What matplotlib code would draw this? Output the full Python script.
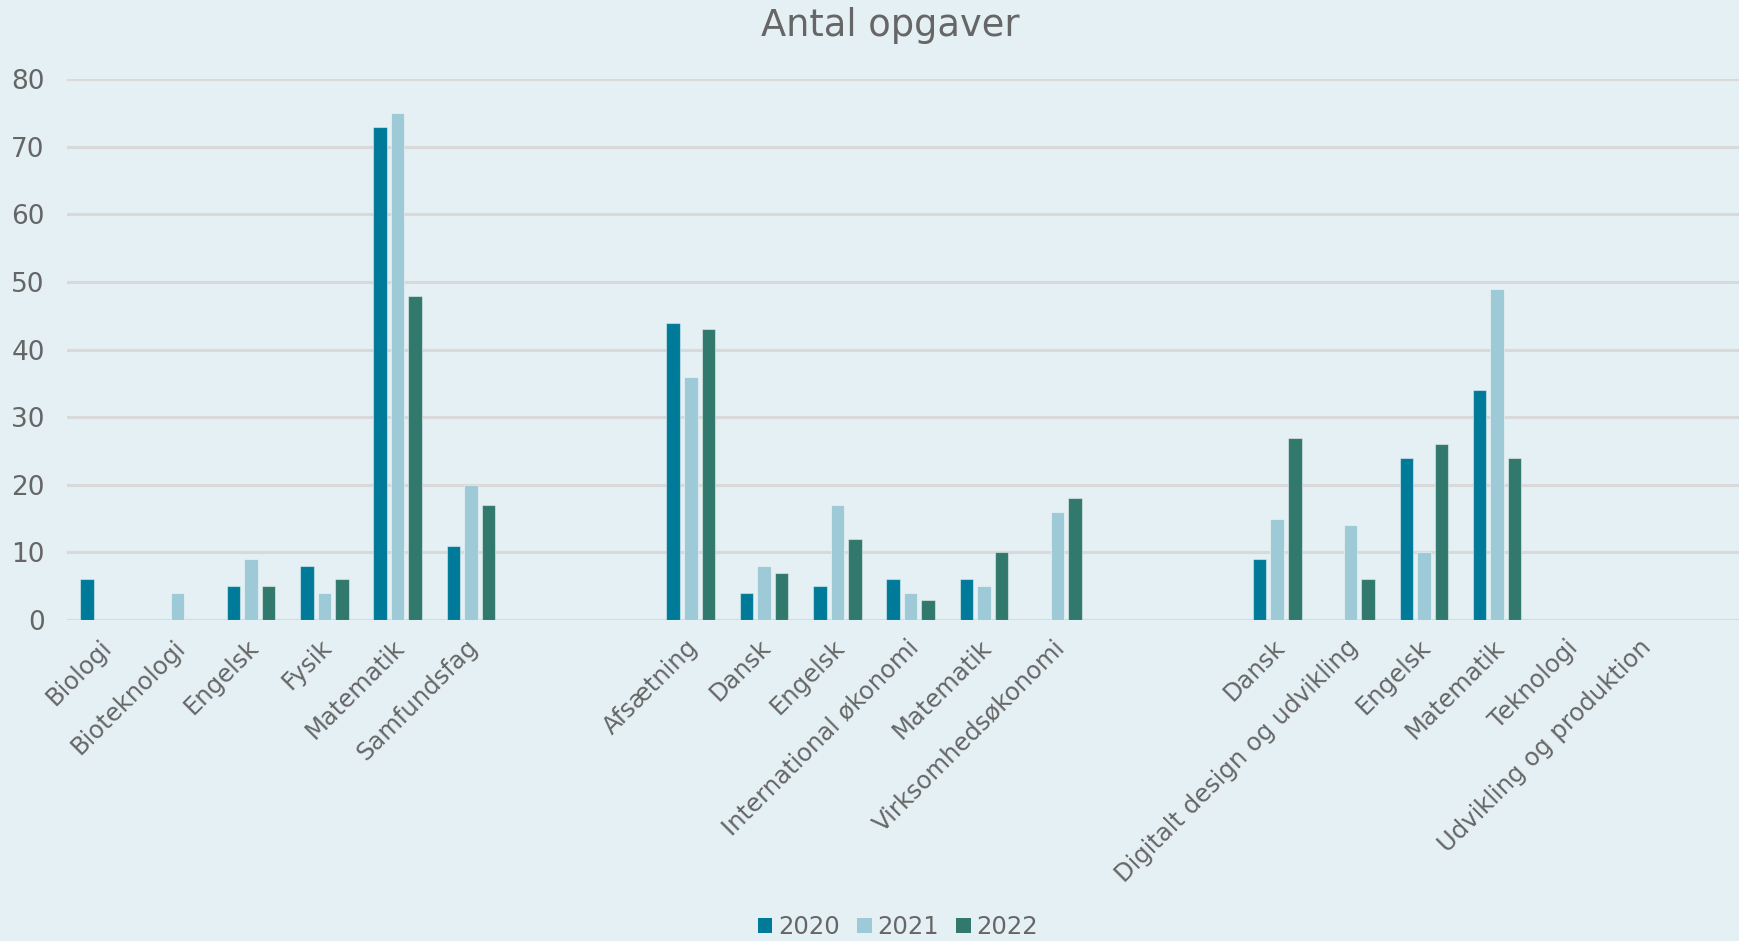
import matplotlib
matplotlib.use("Agg")
import matplotlib.pyplot as plt
import matplotlib.transforms as mtransforms
import numpy as np

categories = ["Biologi", "Bioteknologi", "Engelsk", "Fysik", "Matematik", "Samfundsfag",
              "", "",
              "Afsætning", "Dansk", "Engelsk", "International økonomi", "Matematik", "Virksomhedsøkonomi",
              "", "",
              "Dansk", "Digitalt design og udvikling", "Engelsk", "Matematik", "Teknologi", "Udvikling og produktion"]
nan = np.nan
v2020 = [6, nan, 5, 8, 73, 11, nan, nan, 44, 4, 5, 6, 6, nan, nan, nan, 9, nan, 24, 34, nan, nan]
v2021 = [nan, 4, 9, 4, 75, 20, nan, nan, 36, 8, 17, 4, 5, 16, nan, nan, 15, 14, 10, 49, nan, nan]
v2022 = [nan, nan, 5, 6, 48, 17, nan, nan, 43, 7, 12, 3, 10, 18, nan, nan, 27, 6, 26, 24, nan, nan]
series = ["2020", "2021", "2022"]
colors = ["#007A99", "#9DCAD6", "#31786D"]
yticks = [0, 10, 20, 30, 40, 50, 60, 70, 80]

bg = "#E5F0F4"
txt = "#666666"

fig = plt.figure(figsize=(17.39, 9.41), dpi=100, facecolor=bg)
ax = fig.add_axes([67 / 1739, 1 - 620 / 941, 1 - 67 / 1739, (620 - 79.3) / 941])
ax.set_facecolor(bg)

x = np.arange(len(categories))
w = 0.185
step = 0.239
for i, (vals, name, c) in enumerate(zip([v2020, v2021, v2022], series, colors)):
    ax.bar(x + (i - 1) * step, vals, width=w, color=c, label=name,
           edgecolor=(1, 1, 1, 0.45), linewidth=0.8, zorder=3)

ax.set_ylim(0, 80)
ax.set_xlim(-0.51, 22.3)
ax.set_yticks(yticks)
ax.set_yticklabels([str(t) for t in yticks], fontsize=19, color=txt)
ax.yaxis.grid(True, color="#D9D9D9", linewidth=2.2, zorder=0)
ax.set_axisbelow(True)
ax.tick_params(axis="y", length=0, pad=16)
ax.tick_params(axis="x", length=0, pad=11)
for s in ax.spines.values():
    s.set_visible(False)

ax.set_xticks(x)
ax.set_xticklabels(categories, rotation=45, ha="right", va="top",
                   rotation_mode="anchor", fontsize=17.5, color=txt)
shift = mtransforms.ScaledTranslation(-5 / 100, 0, fig.dpi_scale_trans)
for lab in ax.get_xticklabels():
    lab.set_transform(lab.get_transform() + shift)

fig.text(890 / 1739, 1 - 26 / 941, "Antal opgaver", ha="center", va="center",
         fontsize=26.5, color=txt)

leg = fig.legend(loc="center", bbox_to_anchor=(898 / 1739, 1 - 927 / 941), ncol=3,
                 frameon=False, fontsize=17.5, handlelength=0.6, handleheight=0.6,
                 handletextpad=0.25, columnspacing=0.69, labelcolor=txt)
for h in leg.legend_handles:
    h.set_edgecolor("none")

fig.savefig("out.png", dpi=100, facecolor=bg)
